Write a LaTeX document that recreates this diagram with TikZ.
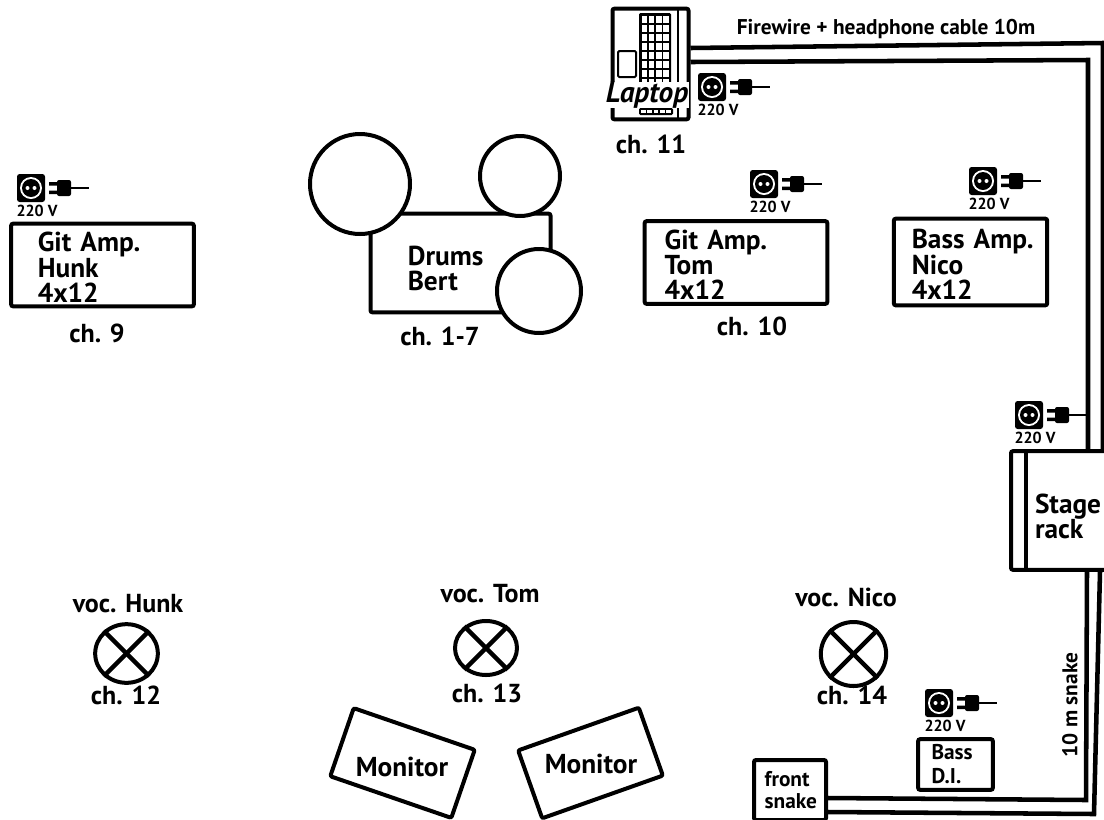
\documentclass[tikz,border=0pt]{standalone}
\usepackage{fontspec}
\usetikzlibrary{shapes.geometric}
\setmainfont{PT Sans}
\newcommand{\amppad}{\rule{0pt}{18pt}}
\setlength{\normallineskiplimit}{-20pt}
\setlength{\lineskiplimit}{-20pt}
\tikzset{every picture/.style={line width=0.75pt}}
\tikzset{
	lbl/.style={font=\fontsize{19.5}{18.5}\selectfont\bfseries, align=left, inner sep=0pt},
	boxlbl/.style={font=\fontsize{20.5}{19}\selectfont\bfseries},
	smalllbl/.style={font=\fontsize{16}{16}\selectfont\bfseries},
	box/.style={draw, line width=3pt, rounded corners=1.5pt, inner sep=0pt, lbl, boxlbl},
	mic/.style={draw, ellipse, line width=3pt, inner sep=0pt},
	drum/.style={draw, circle, line width=3pt, fill=white, inner sep=0pt},
	cable/.style={line width=3.4pt},
	pics/socket/.style={code={
		\fill[rounded corners=2pt] (-14,-14) rectangle (14,14);
		\fill[white] (0,0) circle (11);
		\fill (0,0) circle (9);
		\fill[white] (-3.5,0) circle (2) (3.5,0) circle (2);
		\fill[rounded corners=1.5pt] (26,-8) rectangle (40,8);
		\fill (18,-6) rectangle (26,-2.5) (18,2.5) rectangle (26,6);
		\draw[line width=0.9pt] (40,0) -- (58,0);
		\node[font=\fontsize{12}{12}\selectfont\bfseries] at (6,-23) {220 V};
	}}
}
\begin{document}
\begin{tikzpicture}[x=0.75pt,y=0.75pt,yscale=-1,xscale=1]
	\clip (0,0) rectangle (1104,819);
	% Amps
	\node[box, text width=117pt, inner xsep=10pt, minimum height=62pt] (hunkamp) at (102.5,265) {\hspace*{10pt}\amppad Git Amp.\\\hspace*{10pt}Hunk\\\hspace*{10pt}4x12};
	\node[box, text width=117pt, inner xsep=10pt, minimum height=62pt] (tomamp) at (736,262.5) {\hspace*{5pt}\amppad Git Amp.\\\hspace*{5pt}Tom\\\hspace*{5pt}4x12};
	\node[box, text width=101pt, inner xsep=7pt, minimum height=65pt] (nicoamp) at (970.5,262) {\hspace*{6.5pt}\amppad Bass Amp.\\\hspace*{6.5pt}Nico\\\hspace*{6.5pt}4x12};
	% Drums
	\node[box, text width=125pt, inner xsep=5pt, minimum height=74pt] (drums) at (460.5,263) {\hspace*{23pt}\rule{0pt}{23pt}Drums\\\hspace*{23pt}Bert};
	\node[drum, minimum size=75pt] (kick) at (360,184) {};
	\node[drum, minimum size=60pt] (tomtom) at (520,176) {};
	\node[drum, minimum size=63pt] (floortom) at (539,291) {};
	% Laptop
	\node[box, minimum width=57pt, minimum height=83pt] (laptop) at (650.5,64) {};
	\draw[line width=1pt] (678,9) -- (678,119);
	\draw[line width=1.5pt, rounded corners=1pt] (618,51) rectangle (636,77);
	\fill[rounded corners=1pt] (639,13) rectangle (671,97);
	\foreach \i in {0,...,3}
		\foreach \j in {0,...,8}
			\fill[white] (641.5+7.3*\i,15.5+9*\j) rectangle ++(5.4,7);
	\fill[rounded corners=1pt] (639,108) rectangle (673,115);
	\foreach \i in {0,...,4}
		\fill[white] (641+6.3*\i,110) rectangle ++(4.6,3);
	\node[lbl, font=\fontsize{22}{20}\selectfont\bfseries\itshape, fill=white, inner xsep=0.5pt, inner ysep=0pt] (laptoplbl) at (647,95) {Laptop};
	% Stage rack
	\node[box, text width=60pt, inner xsep=16.5pt, minimum height=89pt] (rack) at (1073,510.5) {\hspace*{1.5pt}\rule{0pt}{24pt}Stage\\\hspace*{1.5pt}rack};
	\draw[line width=3pt] ([xshift=13pt]rack.north west) -- ([xshift=13pt]rack.south west);
	% Small boxes
	\node[box, text width=46pt, inner xsep=5pt, minimum height=38pt, font=\fontsize{16}{18}\selectfont\bfseries] (bassdi) at (955.5,764.5) {\hspace*{5pt}Bass\\\hspace*{5pt}D.I.};
	\node[box, text width=46pt, inner xsep=4pt, minimum height=45pt, font=\fontsize{16}{16}\selectfont\bfseries] (frontsnake) at (790,790) {\hspace*{4pt}front\\\hspace*{4pt}snake};
	% Monitors
	\node[box, rotate=-19, minimum width=96pt, minimum height=54pt] (monleft) at (402.5,763) {};
	\node[box, rotate=19.5, minimum width=96pt, minimum height=54pt] (monright) at (590.5,763) {};
	\node[lbl, boxlbl] (monleftlbl) at (402,767) {Monitor};
	\node[lbl, boxlbl] (monrightlbl) at (591,764) {Monitor};
	% Mics
	\node[mic, minimum width=47pt, minimum height=44pt] (michunk) at (126.5,653.5) {};
	\node[mic, minimum width=46.5pt, minimum height=40.5pt] (mictom) at (486,648) {};
	\node[mic, minimum width=49pt, minimum height=48pt] (micnico) at (853.5,654) {};
	\foreach \m in {michunk,mictom,micnico}{
		\draw[line width=3.4pt] (\m.45) -- (\m.225);
		\draw[line width=3.4pt] (\m.135) -- (\m.315);
	}
	% Cables
	\coordinate (fwcorner) at (1103,43);
	\coordinate (hpcorner) at (1088,60);
	\coordinate (snakecornerA) at (1086,800);
	\coordinate (snakecornerB) at (1094,814);
	\draw[cable] ([yshift=-12pt]laptop.east) -- (fwcorner) -- (fwcorner |- rack.north);
	\draw[cable] ([yshift=-1.5pt]laptop.east) -- (hpcorner) -- (hpcorner |- rack.north);
	\draw[cable] ([yshift=6pt]frontsnake.east) -- (snakecornerA) -- (rack.south -| 1087,0);
	\draw[cable] ([yshift=16.5pt]frontsnake.east) -- (snakecornerB) -- (rack.south -| 1100,0);
	% Sockets
	\foreach \sx/\sy/\sname in {31/188/a,712/87/b,764/184/c,983/181/d,1029/415/e,939/703/f}
		\pic (sock\sname) at (\sx,\sy) {socket};
	% Labels
	\node[lbl] (ch9) at (97,333) {ch. 9};
	\node[lbl] (ch17) at (440,336) {ch. 1-7};
	\node[lbl] (ch10) at (752,326) {ch. 10};
	\node[lbl] (ch11) at (651,144) {ch. 11};
	\node[lbl] (ch12) at (126,695) {ch. 12};
	\node[lbl] (ch13) at (487,693) {ch. 13};
	\node[lbl] (ch14) at (852,695) {ch. 14};
	\node[lbl] (vochunk) at (128,604) {voc. Hunk};
	\node[lbl] (voctom) at (490,594) {voc. Tom};
	\node[lbl] (vocnico) at (846,597) {voc. Nico};
	\node[lbl, smalllbl] (fwlbl) at (886,29) {Firewire + headphone cable 10m};
	\node[lbl, smalllbl, rotate=90] (snakelbl) at (1070,705) {10 m snake};
\end{tikzpicture}
\end{document}
